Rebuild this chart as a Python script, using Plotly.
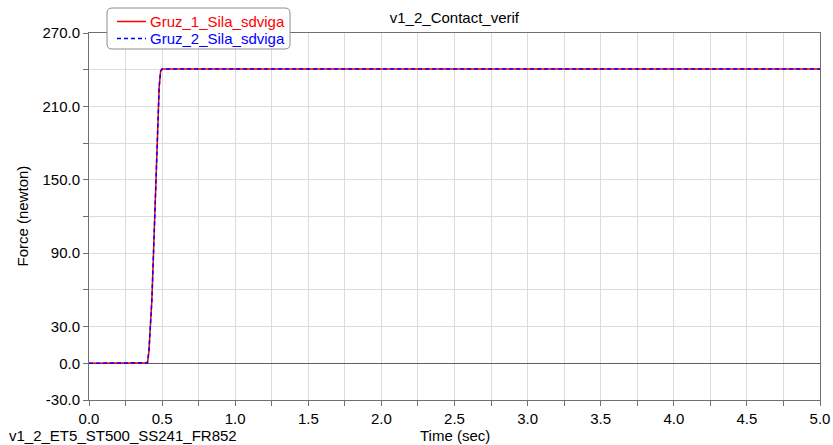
import plotly.graph_objects as go

# ---- data ----
time_sec = [0.0, 0.39, 0.40, 0.41, 0.42, 0.43, 0.44, 0.45, 0.46, 0.47, 0.48, 0.49, 0.50, 1.0, 2.0, 3.0, 4.0, 5.0]
gruz_1 = [0.0, 0.0, 0.5, 10.0, 28.0, 52.0, 86.0, 125.0, 163.0, 198.0, 226.0, 239.0, 240.5, 240.5, 240.5, 240.5, 240.5, 240.5]
gruz_2 = [0.0, 0.0, 0.5, 10.0, 28.0, 52.0, 86.0, 125.0, 163.0, 198.0, 226.0, 239.0, 240.5, 240.5, 240.5, 240.5, 240.5, 240.5]
series_names = ["Gruz_1_Sila_sdviga", "Gruz_2_Sila_sdviga"]
series_colors = ["#ff0000", "#0000ff"]
series_dash = ["solid", "4px,3px"]

y_tick_vals = [-30, 0, 30, 60, 90, 120, 150, 180, 210, 240, 270]
y_tick_text = ["-30.0", "0.0", "30.0", "", "90.0", "", "150.0", "", "210.0", "", "270.0"]
x_tick_vals = [0, 0.25, 0.5, 0.75, 1.0, 1.25, 1.5, 1.75, 2.0, 2.25, 2.5, 2.75, 3.0, 3.25, 3.5, 3.75, 4.0, 4.25, 4.5, 4.75, 5.0]
x_tick_text = ["0.0", "", "0.5", "", "1.0", "", "1.5", "", "2.0", "", "2.5", "", "3.0", "", "3.5", "", "4.0", "", "4.5", "", "5.0"]

FONT = "Liberation Sans, Arial, sans-serif"
W, H = 833, 445
L, R, T, B = 89, 13, 33, 45
PW, PH = W - L - R, H - T - B


def px_x(p):
    return (p - L) / PW


def px_y(p):
    return (H - B - p) / PH


fig = go.Figure()
for name, ys, col, dash in zip(series_names, [gruz_1, gruz_2], series_colors, series_dash):
    fig.add_trace(go.Scatter(
        x=time_sec, y=ys, mode="lines", name=name, showlegend=False,
        line=dict(color=col, width=1.5, dash=dash),
    ))

axis_common = dict(
    showline=True, linecolor="#707070", linewidth=1, mirror=True,
    showgrid=True, gridcolor="#dcdcdc", gridwidth=1,
    ticks="outside", ticklen=5, tickcolor="#707070",
    tickfont=dict(family=FONT, size=15, color="#000000"),
)

fig.update_xaxes(range=[0, 5], tickmode="array", tickvals=x_tick_vals, ticktext=x_tick_text,
                 zeroline=False, automargin=False, **axis_common)
fig.update_yaxes(range=[-30, 270], tickmode="array", tickvals=y_tick_vals, ticktext=y_tick_text,
                 zeroline=True, zerolinecolor="#606060", zerolinewidth=1, automargin=False,
                 **axis_common)

# rounded legend box
bx0, bx1, by0, by1 = px_x(107), px_x(290), px_y(49), px_y(8)
rx, ry = 5 / PW, 5 / PH
box_path = (
    f"M {bx0 + rx},{by1} L {bx1 - rx},{by1} Q {bx1},{by1} {bx1},{by1 - ry} "
    f"L {bx1},{by0 + ry} Q {bx1},{by0} {bx1 - rx},{by0} "
    f"L {bx0 + rx},{by0} Q {bx0},{by0} {bx0},{by0 + ry} "
    f"L {bx0},{by1 - ry} Q {bx0},{by1} {bx0 + rx},{by1} Z"
)
shapes = [dict(type="path", path=box_path, xref="paper", yref="paper", layer="above",
               fillcolor="white", line=dict(color="#8c8c8c", width=1))]

annotations = [
    dict(text="Time (sec)", xref="paper", yref="paper", x=0.5, y=px_y(435.5),
         xanchor="center", yanchor="middle", showarrow=False,
         font=dict(family=FONT, size=15, color="#000000")),
    dict(text="Force (newton)", xref="paper", yref="paper", x=px_x(22), y=0.5,
         xanchor="center", yanchor="middle", showarrow=False, textangle=-90,
         font=dict(family=FONT, size=15, color="#000000")),
    dict(text="v1_2_ET5_ST500_SS241_FR852", xref="paper", yref="paper",
         x=px_x(7), y=px_y(435.5),
         xanchor="left", yanchor="middle", showarrow=False,
         font=dict(family=FONT, size=15, color="#000000")),
]

# legend entries (drawn manually for exact row spacing)
row_y = [21.5, 38.5]
for name, col, dash, ry_px in zip(series_names, series_colors, series_dash, row_y):
    shapes.append(dict(type="line", xref="paper", yref="paper", layer="above",
                       x0=px_x(117), x1=px_x(146), y0=px_y(ry_px), y1=px_y(ry_px),
                       line=dict(color=col, width=1.5, dash=dash)))
    annotations.append(dict(text=name, xref="paper", yref="paper", x=px_x(148), y=px_y(ry_px),
                            xanchor="left", yanchor="middle", showarrow=False,
                            font=dict(family=FONT, size=15, color=col)))

fig.update_layout(
    width=W, height=H,
    margin=dict(l=L, r=R, t=T, b=B, autoexpand=False),
    paper_bgcolor="white", plot_bgcolor="white",
    font=dict(family=FONT, size=15, color="#000000"),
    title=dict(text="v1_2_Contact_verif", x=0.5455, xanchor="center",
               y=1 - 18 / H, yanchor="middle", yref="container",
               font=dict(family=FONT, size=15, color="#000000")),
    showlegend=False,
    shapes=shapes,
    annotations=annotations,
)

fig.write_html("out.html")
